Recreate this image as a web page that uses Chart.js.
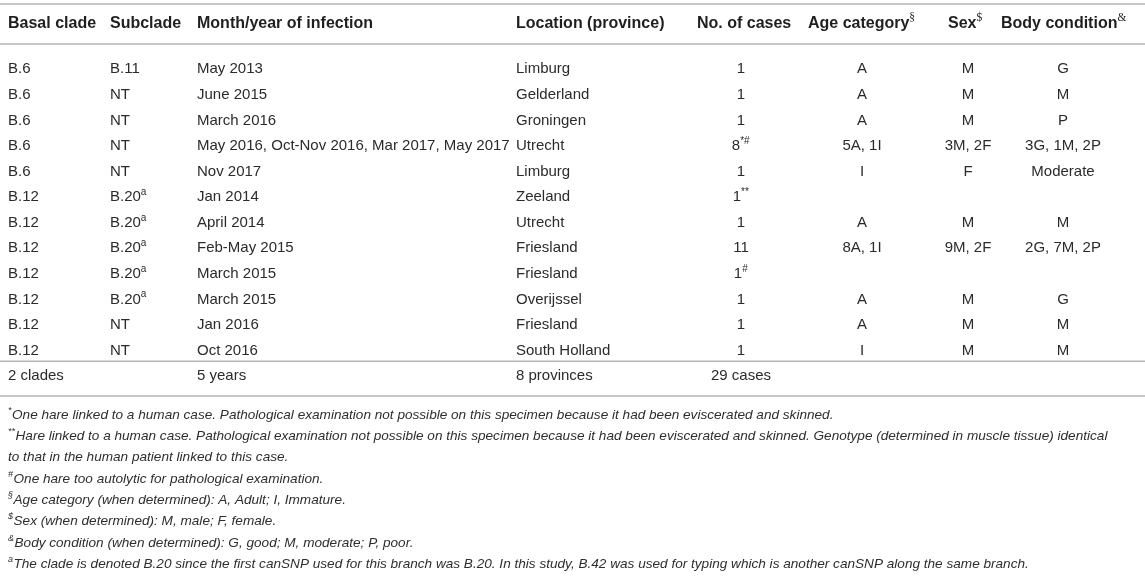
<!DOCTYPE html>
<html><head><meta charset="utf-8">
<script src="https://cdn.jsdelivr.net/npm/chart.js@4.4.0/dist/chart.umd.min.js"></script>
<style>
html,body{margin:0;padding:0;background:#fff;}
#wrap{position:relative;width:1145px;height:578px;}
</style></head><body>
<div id="wrap"><canvas id="c"></canvas></div>
<script>
// ---- data ----
const columnHeaders = ['Basal clade','Subclade','Month/year of infection','Location (province)','No. of cases','Age category{§}','Sex{$}','Body condition{&}'];
const basalClade = ['B.6','B.6','B.6','B.6','B.6','B.12','B.12','B.12','B.12','B.12','B.12','B.12'];
const subclade = ['B.11','NT','NT','NT','NT','B.20{a}','B.20{a}','B.20{a}','B.20{a}','B.20{a}','NT','NT'];
const monthYear = ['May 2013','June 2015','March 2016','May 2016, Oct-Nov 2016, Mar 2017, May 2017','Nov 2017','Jan 2014','April 2014','Feb-May 2015','March 2015','March 2015','Jan 2016','Oct 2016'];
const provinces = ['Limburg','Gelderland','Groningen','Utrecht','Limburg','Zeeland','Utrecht','Friesland','Friesland','Overijssel','Friesland','South Holland'];
const cases = ['1','1','1','8{*#}','1','1{**}','1','11','1{#}','1','1','1'];
const ageCategory = ['A','A','A','5A, 1I','I','','A','8A, 1I','','A','A','I'];
const sex = ['M','M','M','3M, 2F','F','','M','9M, 2F','','M','M','M'];
const bodyCondition = ['G','M','P','3G, 1M, 2P','Moderate','','M','2G, 7M, 2P','','G','M','M'];
const totals = ['2 clades','','5 years','8 provinces','29 cases','','',''];
const footnotes = [
  '{*}One hare linked to a human case. Pathological examination not possible on this specimen because it had been eviscerated and skinned.',
  '{**}Hare linked to a human case. Pathological examination not possible on this specimen because it had been eviscerated and skinned. Genotype (determined in muscle tissue) identical',
  'to that in the human patient linked to this case.',
  '{#}One hare too autolytic for pathological examination.',
  '{§}Age category (when determined): A, Adult; I, Immature.',
  '{$}Sex (when determined): M, male; F, female.',
  '{&}Body condition (when determined): G, good; M, moderate; P, poor.',
  '{a}The clade is denoted B.20 since the first canSNP used for this branch was B.20. In this study, B.42 was used for typing which is another canSNP along the same branch.'
];
const rowKeys = basalClade.map((_, i) => 'row' + i).concat(['total']);
const columns = [basalClade, subclade, monthYear, provinces, cases, ageCategory, sex, bodyCondition];

// ---- rich text helper ----
function parseRich(str){
  const parts = []; const re = /\{([^}]*)\}/g; let last = 0, m;
  while ((m = re.exec(str))) {
    if (m.index > last) parts.push({t: str.slice(last, m.index), sup: false});
    parts.push({t: m[1], sup: true}); last = re.lastIndex;
  }
  if (last < str.length) parts.push({t: str.slice(last), sup: false});
  return parts;
}
function drawRich(ctx, str, x, yMid, align, st){
  const parts = parseRich(str);
  let total = 0;
  parts.forEach(p => { ctx.font = p.sup ? st.supFont : st.font; p.w = ctx.measureText(p.t).width + (p.sup ? st.supGap : 0); total += p.w; });
  let cx = align === 'center' ? x - total / 2 : x;
  const base = yMid + st.size * 0.36;
  ctx.textAlign = 'left'; ctx.textBaseline = 'alphabetic'; ctx.fillStyle = st.color;
  parts.forEach(p => {
    ctx.font = p.sup ? st.supFont : st.font;
    ctx.fillText(p.t, cx, p.sup ? base - st.size * st.supRaise : base);
    cx += p.w;
  });
}

const tablePlugin = {
  id: 'tablePlugin',
  afterDraw(chart, args, o){
    const ctx = chart.ctx, xs = chart.scales.x, ys = chart.scales.y;
    const y0 = ys.getPixelForValue(0);
    const nData = basalClade.length;
    ctx.save();
    // rules
    ctx.strokeStyle = o.ruleColor; ctx.lineWidth = o.ruleWidth;
    const yLast = ys.getPixelForValue(nData - 1), yTot = ys.getPixelForValue(nData);
    const rules = [y0 + o.topRule, y0 + o.headRule, (yLast + yTot) / 2 + o.sumRuleShift, yTot + o.bottomRule];
    rules.forEach(y => { ctx.beginPath(); ctx.moveTo(xs.getPixelForValue(xs.min), y); ctx.lineTo(xs.getPixelForValue(xs.max), y); ctx.stroke(); });
    // header
    const hStyle = {font: 'bold ' + o.headSize + 'px ' + o.family, supFont: o.hSupSize + 'px ' + o.serif, size: o.headSize, supRaise: 0.42, supGap: 1, color: o.headColor};
    columnHeaders.forEach((h, c) => drawRich(ctx, h, xs.getPixelForValue(o.colStart[c]), y0 + o.headText, 'left', hStyle));
    // body
    const bStyle = {font: o.size + 'px ' + o.family, supFont: o.supSize + 'px ' + o.family, size: o.size, supRaise: 0.42, supGap: 0.5, color: o.bodyColor};
    columns.forEach((col, c) => {
      col.forEach((v, r) => {
        if (!v) return;
        const centered = o.colCenter[c] !== null;
        drawRich(ctx, v, xs.getPixelForValue(centered ? o.colCenter[c] : o.colStart[c]), ys.getPixelForValue(r), centered ? 'center' : 'left', bStyle);
      });
    });
    totals.forEach((v, c) => {
      if (!v) return;
      const centered = o.colCenter[c] !== null;
      drawRich(ctx, v, xs.getPixelForValue(centered ? o.colCenter[c] : o.colStart[c]), yTot, centered ? 'center' : 'left', bStyle);
    });
    // footnotes
    const fStyle = {font: 'italic ' + o.fSize + 'px ' + o.family, supFont: 'italic ' + o.fSupSize + 'px ' + o.family, size: o.fSize, supRaise: 0.45, supGap: 0.5, color: o.footColor};
    const fy0 = rules[3] + o.footStart;
    footnotes.forEach((f, i) => drawRich(ctx, f, xs.getPixelForValue(o.footX), fy0 + i * o.footPitch, 'left', fStyle));
    ctx.restore();
  }
};

new Chart(document.getElementById('c'), {
  type: 'scatter',
  data: { labels: rowKeys, datasets: [] },
  options: {
    responsive: true, maintainAspectRatio: false, animation: false,
    layout: { padding: { top: 68, bottom: 203, left: 0, right: 0 } },
    scales: {
      x: { type: 'linear', min: 0, max: 1145, display: false },
      y: { type: 'category', labels: rowKeys, offset: false, display: false }
    },
    plugins: {
      legend: { display: false }, tooltip: { enabled: false },
      tablePlugin: {
        colStart: [8, 110, 197, 516, 697, 808, 948, 1001],
        colCenter: [null, null, null, null, 741, 862, 968, 1063],
        family: '"Liberation Sans", Arial, Helvetica, sans-serif',
        serif: '"Liberation Serif", "DejaVu Serif", serif',
        size: 15, headSize: 16, supSize: 10, hSupSize: 11.5,
        fSize: 13.6, fSupSize: 9,
        headColor: '#1f1f1f', bodyColor: '#2b2b2b', footColor: '#2e2e2e',
        ruleColor: '#b4b4b4', ruleWidth: 1.6,
        topRule: -64, headRule: -24, headText: -46, sumRuleShift: -1, bottomRule: 21,
        footStart: 18, footPitch: 21.3, footX: 8
      }
    }
  },
  plugins: [tablePlugin]
});
</script>
</body></html>
